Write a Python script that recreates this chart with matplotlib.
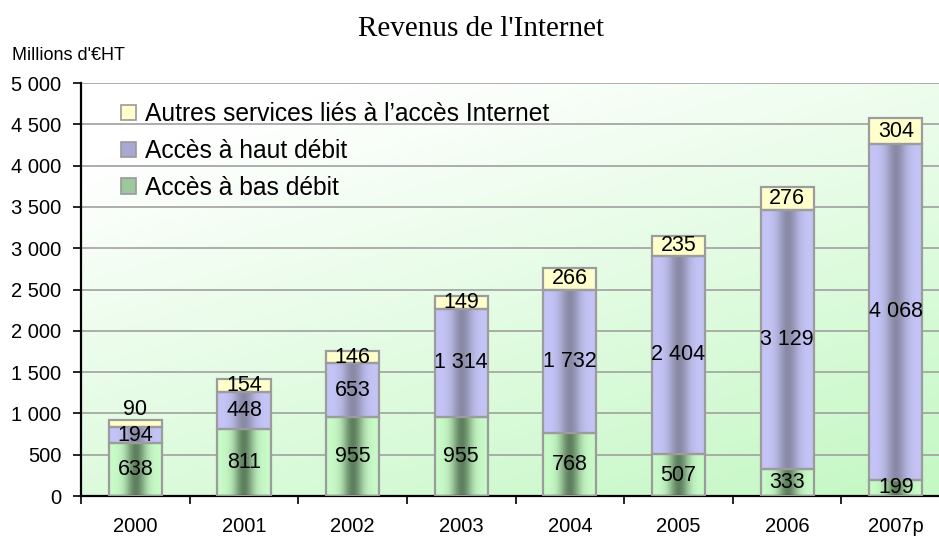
import matplotlib
matplotlib.use('Agg')
import matplotlib.pyplot as plt
from matplotlib.patches import Patch
import numpy as np

plt.rcParams['font.family'] = ['Liberation Sans', 'DejaVu Sans']

# données (millions d'euros HT)
annees = ['2000', '2001', '2002', '2003', '2004', '2005', '2006', '2007p']
bas_debit = [638, 811, 955, 955, 768, 507, 333, 199]
haut_debit = [194, 448, 653, 1314, 1732, 2404, 3129, 4068]
autres = [90, 154, 146, 149, 266, 235, 276, 304]
yticks = [0, 500, 1000, 1500, 2000, 2500, 3000, 3500, 4000, 4500, 5000]

noms = ['Accès à bas débit', 'Accès à haut débit',
        'Autres services liés à l\u2019accès Internet']
bord = '#c8fbc8', '#c4c4f6', '#ffffcc'
centre = '#5f805f', '#8a8aa6', '#ffffcc'
legende = '#9cc89c', '#a8a8d4', '#ffffcc'


def fmt(v):
    return f'{v:,}'.replace(',', ' ')


def degrade(c_bord, c_centre, n=64):
    a = np.array(matplotlib.colors.to_rgb(c_bord))
    b = np.array(matplotlib.colors.to_rgb(c_centre))
    t = np.linspace(-1, 1, n)
    w = np.exp(-(t / 0.38) ** 2)
    return (a[None, :] * (1 - w[:, None]) + b[None, :] * w[:, None])[None, :, :]


fig = plt.figure(figsize=(9.39, 5.36), dpi=100)
ax = fig.add_axes([0.0863, 0.0746, 0.9255, 0.7705])

# fond dégradé blanc -> vert
yy, xx = np.mgrid[0:1:200j, 0:1:200j]
t = np.clip(0.75 * yy + 0.45 * xx - 0.15, 0, 1)
c0 = np.array([1.0, 1.0, 1.0])
c1 = np.array(matplotlib.colors.to_rgb('#c6f8c6'))
fond = c0[None, None, :] * (1 - t[..., None]) + c1[None, None, :] * t[..., None]
ax.imshow(fond, extent=[-0.5, 7.5, 0, 5000], aspect='auto', zorder=0)

x = np.arange(len(annees))
series = [bas_debit, haut_debit, autres]
base = np.zeros(len(annees))
for i, vals in enumerate(series):
    bars = ax.bar(x, vals, 0.49, bottom=base, facecolor='none',
                  edgecolor='#9c9c9c', linewidth=1.6, zorder=3)
    g = degrade(bord[i], centre[i])
    for rect in bars:
        x0, y0 = rect.get_x(), rect.get_y()
        im = ax.imshow(g, extent=[x0, x0 + rect.get_width(), y0, y0 + rect.get_height()],
                       aspect='auto', zorder=2)
        im.set_clip_path(rect)
    for j, v in enumerate(vals):
        yc = base[j] + v / 2
        if v < 100:
            yc = base[j] + v + 130
        ax.text(x[j], yc, fmt(v), ha='center', va='center', fontsize=15.5, zorder=4)
    base = base + np.array(vals)

ax.set_xlim(-0.5, 7.5)
ax.set_ylim(0, 5000)
ax.set_yticks(yticks)
ax.set_yticklabels([fmt(v) for v in yticks], fontsize=14.5)
ax.set_xticks(x)
ax.set_xticklabels(annees, fontsize=14.5)
ax.set_xticks(np.arange(-0.5, 8, 1), minor=True)
ax.tick_params(axis='x', which='major', length=0, pad=15)
ax.tick_params(axis='x', which='minor', length=6, width=1.2, direction='out')
ax.tick_params(axis='y', length=6, width=1.2, direction='out', pad=8)
ax.yaxis.grid(True, color='#a0a0a0', linewidth=1.2, zorder=1)
ax.set_axisbelow(True)
for s in ['top', 'right']:
    ax.spines[s].set_visible(False)
for s in ['left', 'bottom']:
    ax.spines[s].set_linewidth(1.6)

handles = [Patch(facecolor=legende[i], edgecolor='#999999', linewidth=1.2)
           for i in range(3)]
ax.legend(handles[::-1], noms[::-1], loc='upper left', bbox_to_anchor=(0.035, 0.977),
          frameon=False, fontsize=17.7, handlelength=0.6, handleheight=0.6,
          handletextpad=0.35, labelspacing=0.52, borderaxespad=0)

fig.text(0.512, 0.946, "Revenus de l'Internet", ha='center', va='center',
         fontsize=21, family='Liberation Serif')
fig.text(0.013, 0.897, "Millions d'\u20acHT", ha='left', va='center', fontsize=13)

plt.savefig('out.png', dpi=100)
